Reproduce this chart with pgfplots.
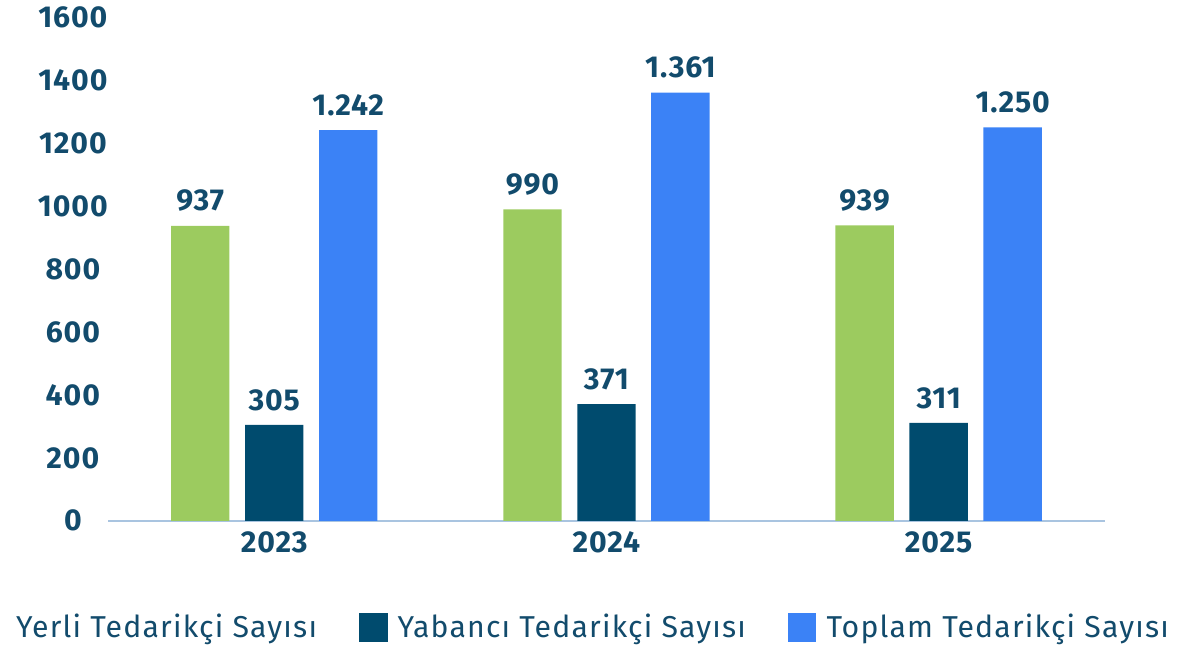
\documentclass[border=0pt]{standalone}
\usepackage{fontspec}
\setmainfont{Fira Sans}
\usepackage{pgfplots}
\pgfplotsset{compat=1.18}
\definecolor{yerli}{HTML}{9CCB5F}
\definecolor{yabanci}{HTML}{004B6E}
\definecolor{toplam}{HTML}{3B82F6}
\definecolor{txt}{HTML}{124B6C}
\definecolor{axcol}{HTML}{A9C4E0}
\newfontfamily\numfont[LetterSpace=3]{Fira Sans}
\newfontfamily\legfont[LetterSpace=4]{Fira Sans}
\begin{document}
\begin{tikzpicture}
\begin{axis}[
  scale only axis, width=495pt, height=250pt,
  ybar=7.75pt, bar width=29pt,
  xmin=-0.5, xmax=2.5, ymin=0, ymax=1600,
  xtick={0,1,2}, xticklabels={2023,2024,2025},
  ytick={0,200,...,1600},
  axis lines*=left,
  y axis line style={draw=none},
  x axis line style={draw=axcol, line width=1pt, -},
  major tick length=0pt,
  /pgf/number format/assume math mode=true,
  /pgf/number format/1000 sep={},
  ticklabel style={font=\numfont\fontsize{15}{17}\selectfont\bfseries, text=txt},
  yticklabel style={anchor=center, xshift=-17.5pt},
  xticklabel style={yshift=-2pt},
  nodes near coords,
  nodes near coords style={font=\numfont\fontsize{15}{17}\selectfont\bfseries, text=txt, yshift=3.5pt,
    /pgf/number format/1000 sep={.}},
  legend columns=3,
  legend style={draw=none, fill=none, at={(0.483,-0.212)}, anchor=center,
    font=\legfont\fontsize{15}{17}\selectfont, text=txt,
    /tikz/every odd column/.append style={column sep=3pt},
    /tikz/every even column/.append style={column sep=19pt}},
  legend image code/.code={\fill[#1] (0pt,-7pt) rectangle (14pt,7pt);},
]
\addplot[fill=yerli, draw=none, legend image code/.code={}] coordinates {(0,937) (1,990) (2,939)};
\addplot[fill=yabanci, draw=none] coordinates {(0,305) (1,371) (2,311)};
\addplot[fill=toplam, draw=none] coordinates {(0,1242) (1,1361) (2,1250)};
\legend{Yerli Tedarikçi Sayısı, Yabancı Tedarikçi Sayısı, Toplam Tedarikçi Sayısı}
\end{axis}
\end{tikzpicture}
\end{document}
